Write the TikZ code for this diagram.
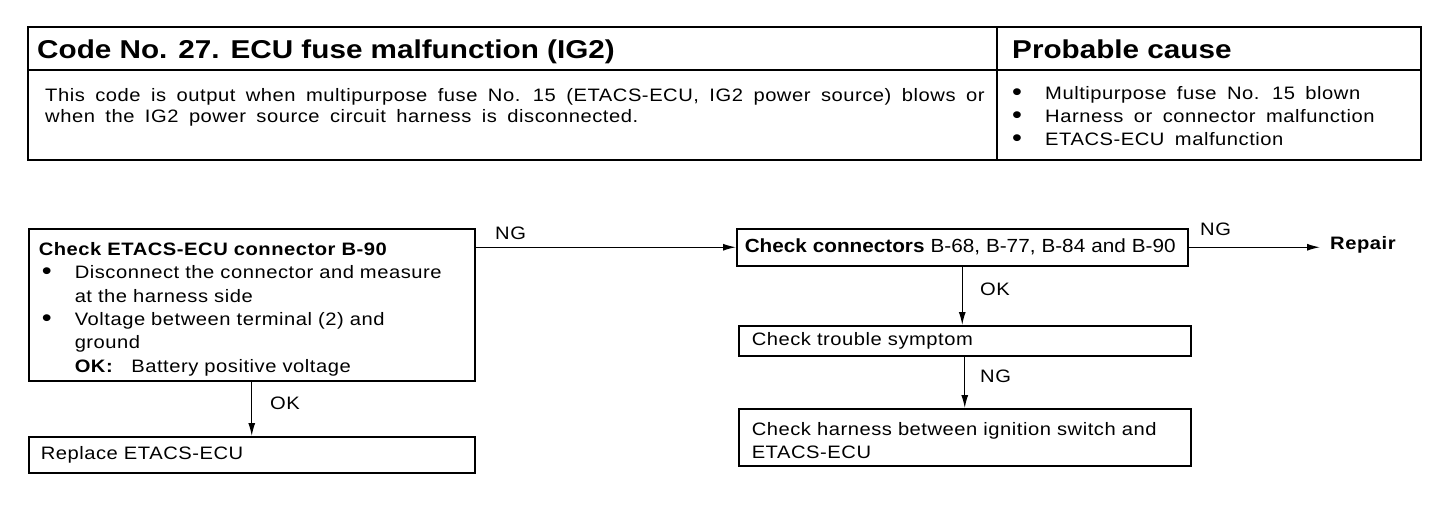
\documentclass[tikz,border=0pt]{standalone}
\usepackage{fontspec}
\setmainfont{Liberation Sans}[FakeStretch=1.12, LetterSpace=3, WordSpace=1.7]
\newfontfamily\condfont{Liberation Sans}[FakeStretch=1.09, WordSpace=0.9]
\newfontfamily\titlefont{Liberation Sans}[FakeStretch=1.15]
\usetikzlibrary{arrows.meta}
\newcommand{\bodyfs}{\fontsize{18}{23.3}\selectfont}
\newcommand{\titlefs}{\titlefont\fontsize{25.8}{30}\selectfont\bfseries}
\newcommand{\bigbul}{\raisebox{-0.8pt}{\scalebox{1.4}{\textbullet}}}
\newcommand{\bul}{\makebox[36pt][l]{\hspace*{3pt}\bigbul}}
\newcommand{\ind}{\hspace*{36pt}}
\begin{document}
\begin{tikzpicture}[x=1pt,y=-1pt,
  frame/.style={line width=1.5pt},
  box/.style={draw, line width=1.5pt, rectangle, anchor=north west, inner ysep=0pt,
    align=left, font=\bodyfs},
  lbl/.style={inner sep=0pt, anchor=base west, font=\bodyfs},
  ttl/.style={inner sep=0pt, anchor=base west, font=\titlefs},
  arr/.style={line width=1.3pt, -{Latex[length=13pt,width=7pt]}}]
\useasboundingbox (0,0) rectangle (1456,506);
% top table
\draw[frame] (28,27) rectangle (1421,160);
\draw[frame] (28,70) -- (1421,70);
\draw[frame] (997,27) -- (997,160);
\node[ttl] (title) at (37,58) {Code No. 27. ECU fuse malfunction (IG2)};
\node[ttl] (pc) at (1012,58) {Probable cause};
\node[lbl, align=left, anchor=north west, font=\fontsize{18}{21}\selectfont] (desc) at (45,88)
  {This code is output when multipurpose fuse No. 15 (ETACS-ECU, IG2 power source) blows or\\
   when the IG2 power source circuit harness is disconnected.};
\node[lbl, align=left, anchor=north west] (causes) at (1009,86)
  {\bul Multipurpose fuse No. 15 blown\\
   \bul Harness or connector malfunction\\
   \bul ETACS-ECU malfunction};
% flow boxes
\node[box, minimum width=446pt, minimum height=152pt, text width=426pt, inner xsep=10pt] (A) at (28,228)
  {\rule{0pt}{22pt}\textbf{Check ETACS-ECU connector B-90}\\
   \bul Disconnect the connector and measure\\
   \ind at the harness side\\
   \bul Voltage between terminal (2) and\\
   \ind ground\\
   \ind\textbf{OK:}\ \ \ Battery positive voltage};
\node[box, minimum width=451pt, minimum height=37pt, text width=435pt, inner xsep=8pt] (B) at (736,228)
  {\condfont\fontsize{19}{23}\selectfont\textbf{Check connectors} B-68, B-77, B-84 and B-90};
\node[lbl, font=\bodyfs\bfseries, anchor=west] (R) at (1330,245) {Repair};
\node[box, minimum width=452pt, minimum height=30pt, text width=436pt, inner xsep=8pt] (C) at (738,325)
  {\hspace*{5pt}Check trouble symptom};
\node[box, minimum width=452pt, minimum height=57pt, text width=436pt, inner xsep=8pt] (D) at (738,408)
  {\rule{0pt}{20pt}\hspace*{5pt}Check harness between ignition switch and\\\hspace*{5pt}ETACS-ECU};
\node[box, minimum width=446pt, minimum height=36pt, text width=430pt, inner xsep=8pt] (E) at (28,436)
  {\hspace*{4pt}Replace ETACS-ECU};
% connectors
\draw[arr] (A.north east |- B.west) -- (B.west);
\draw[arr, shorten >=10pt] (B.east) -- (B.east -| R.west);
\draw[arr] (B.south) -- (B.south |- C.north);
\draw[arr] (C.south) -- (C.south |- D.north);
\draw[arr] (A.south) -- (E.north);
% labels
\node[lbl] (l1) at (495,239) {NG};
\node[lbl] (l2) at (1200,235) {NG};
\node[lbl] (l3) at (980,295) {OK};
\node[lbl] (l4) at (980,382) {NG};
\node[lbl] (l5) at (270,409) {OK};
\end{tikzpicture}
\end{document}
